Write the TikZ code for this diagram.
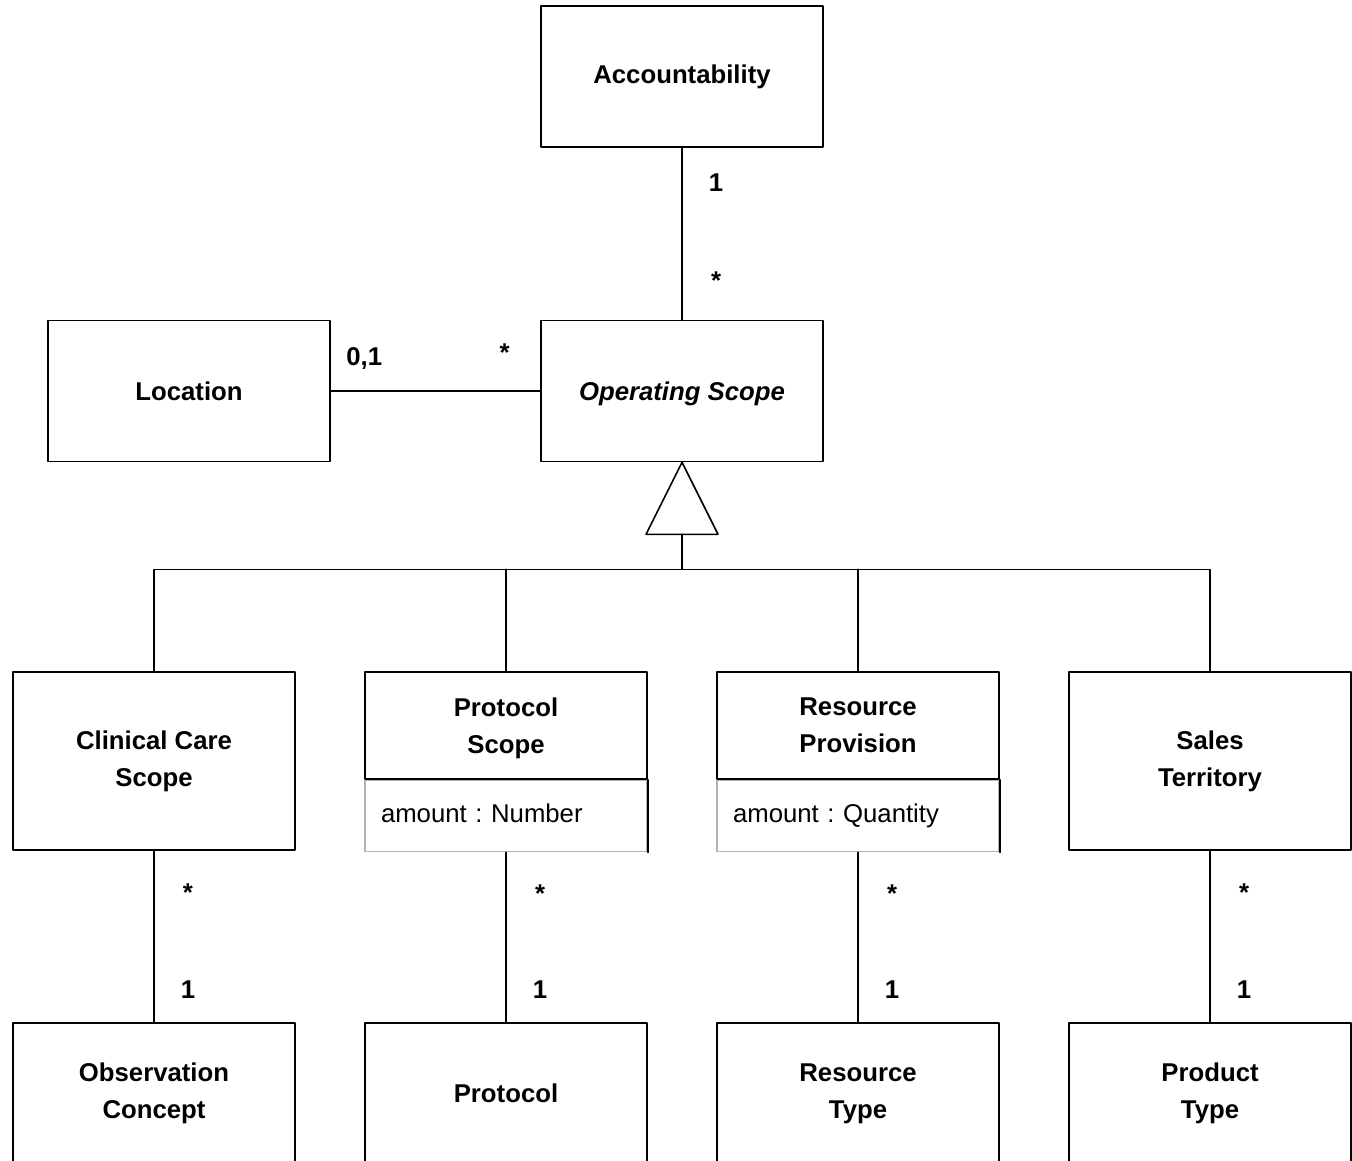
\documentclass[tikz,border=0pt]{standalone}
\usepackage{fontspec}
\setmainfont{Liberation Sans}
\usetikzlibrary{positioning, calc}

\tikzset{
  klass/.style={draw, line width=1.2pt, minimum width=211.5pt, minimum height=105.75pt,
    inner sep=0pt, align=center, font=\bfseries\fontsize{19.3}{27.75}\selectfont},
  subklass/.style={klass, minimum height=133.5pt},
  titlepart/.style={klass, minimum height=80.25pt},
  attrpart/.style={draw=gray!60, line width=1.2pt, minimum height=53.25pt, inner xsep=12pt,
    inner ysep=0pt, text width=187.5pt, text height=15pt, text depth=5pt, align=left,
    font=\fontsize{19.3}{23}\selectfont\frenchspacing},
  assoc/.style={line width=1.2pt},
  mult/.style={font=\bfseries\fontsize{19.3}{23}\selectfont}
}

\begin{document}
\begin{tikzpicture}[line cap=round,line join=round,x=0.75pt,y=-0.75pt]
\clip (0,0) rectangle (1352,1160);

\node[klass] (account) at (682,76.5) {Accountability};
\node[klass] (location) at (189,391) {Location};
\node[klass, text depth=0pt] (opscope) at (682,391) {\itshape Operating Scope};

\node[subklass] (clinical) at (154,761) {Clinical Care\\Scope};
\node[titlepart, text depth=0pt] (protoscope) at (506,725.5) {Protocol\\Scope};
\node[attrpart, below=0pt of protoscope] (protoattr) {amount : Number};
\node[titlepart] (resprov) at (858,725.5) {Resource\\Provision};
\node[attrpart, below=0pt of resprov] (resattr) {amount : Quantity};
\node[subklass] (sales) at (1210,761) {Sales\\Territory};

\draw[assoc] (protoattr.north east) -- (protoattr.south east);
\draw[assoc] (resattr.north east) -- (resattr.south east);

\node[klass] (obsconcept) at (154,1093.5) {Observation\\Concept};
\node[klass] (protocol) at (506,1093.5) {Protocol};
\node[klass] (restype) at (858,1093.5) {Resource\\Type};
\node[klass] (prodtype) at (1210,1093.5) {Product\\Type};

% associations
\draw[assoc] (account) -- node[mult,pos=0.2,xshift=25.5pt] {1}
  node[mult,pos=0.77,xshift=25.5pt] {*} (opscope);
\draw[assoc] (location) -- node[mult,pos=0.16,yshift=24pt] {0,1}
  node[mult,pos=0.83,yshift=29pt] {*} (opscope);

% generalization
\coordinate (gen) at ($(opscope.south)+(0,72)$);
\coordinate (bus) at ($(opscope.south)+(0,107)$);
\draw[assoc] (opscope.south) -- ++(-36,72) -- ++(72,0) -- cycle;
\draw[assoc] (gen) -- (bus);
\draw[assoc] (clinical.north) |- (bus) -| (sales.north);
\draw[assoc] (protoscope.north) -- (protoscope.north |- bus);
\draw[assoc] (resprov.north) -- (resprov.north |- bus);

\draw[assoc] (clinical) -- node[mult,pos=0.245,xshift=25.5pt] {*}
  node[mult,pos=0.81,xshift=25.5pt] {1} (obsconcept);
\draw[assoc] (protoattr) -- node[mult,pos=0.245,xshift=25.5pt] {*}
  node[mult,pos=0.81,xshift=25.5pt] {1} (protocol);
\draw[assoc] (resattr) -- node[mult,pos=0.245,xshift=25.5pt] {*}
  node[mult,pos=0.81,xshift=25.5pt] {1} (restype);
\draw[assoc] (sales) -- node[mult,pos=0.245,xshift=25.5pt] {*}
  node[mult,pos=0.81,xshift=25.5pt] {1} (prodtype);

\end{tikzpicture}
\end{document}
